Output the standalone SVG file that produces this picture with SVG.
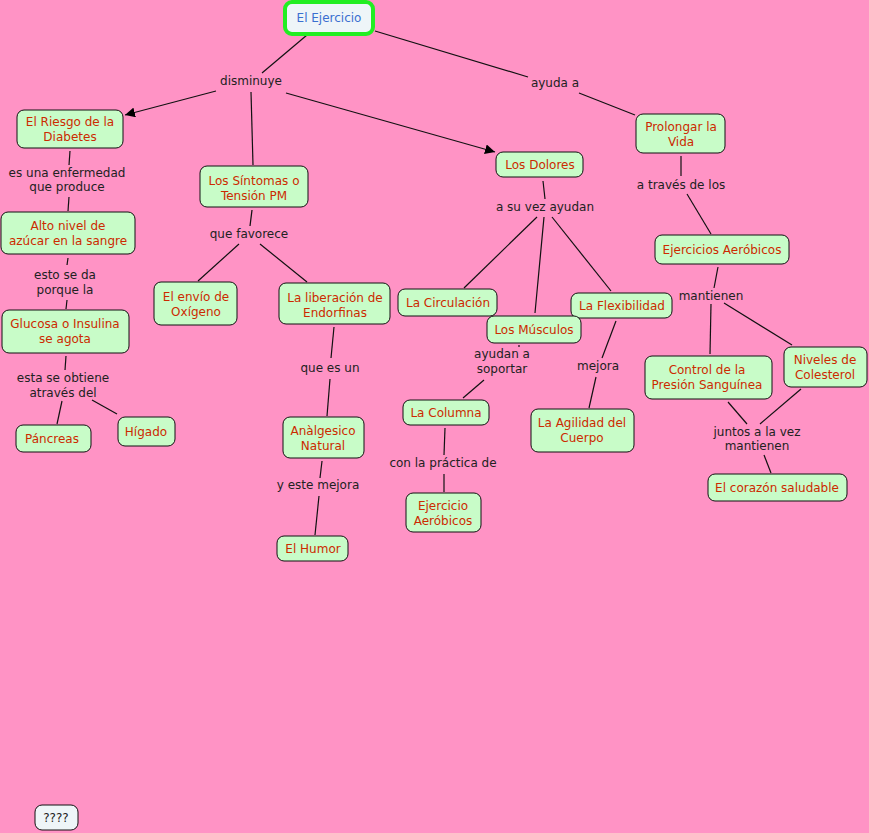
<svg xmlns="http://www.w3.org/2000/svg" width="869" height="833" viewBox="0 0 869 833">
<defs>
<marker id="ah" viewBox="0 0 10 10" refX="10" refY="5" markerWidth="10" markerHeight="10" markerUnits="userSpaceOnUse" orient="auto"><path d="M0,0 L10,5 L0,10 z" fill="#000"/></marker>
<style>
.n rect{fill:#c8fcc8;stroke:#111;stroke-width:1}
.n text{fill:#cc2a00;font-family:"DejaVu Sans",Verdana,sans-serif;font-size:12px;text-anchor:middle}
.l{fill:#222;font-family:"DejaVu Sans",Verdana,sans-serif;font-size:12px;text-anchor:middle}
#c line{stroke:#111;stroke-width:1.2}
</style>
</defs>
<rect width="869" height="833" fill="#ff93c5"/>
<g id="c">
<line x1="307" y1="35" x2="262" y2="73"/>
<line x1="216" y1="91" x2="125" y2="115" marker-end="url(#ah)"/>
<line x1="251" y1="92" x2="253" y2="165"/>
<line x1="286" y1="93" x2="495" y2="152" marker-end="url(#ah)"/>
<line x1="375" y1="31" x2="528" y2="77"/>
<line x1="579" y1="93" x2="635" y2="115"/>
<line x1="70" y1="151" x2="69" y2="165"/>
<line x1="69" y1="197" x2="68" y2="211"/>
<line x1="68" y1="258" x2="67" y2="265"/>
<line x1="67" y1="300" x2="66" y2="309"/>
<line x1="66" y1="356" x2="65" y2="370"/>
<line x1="62" y1="401" x2="57" y2="424"/>
<line x1="92" y1="400" x2="117" y2="414"/>
<line x1="252" y1="210" x2="250" y2="226"/>
<line x1="239" y1="244" x2="198" y2="281"/>
<line x1="260" y1="244" x2="307" y2="282"/>
<line x1="334" y1="327" x2="331" y2="358"/>
<line x1="330" y1="379" x2="327" y2="416"/>
<line x1="322" y1="461" x2="320" y2="478"/>
<line x1="319" y1="496" x2="315" y2="535"/>
<line x1="543" y1="181" x2="545" y2="199"/>
<line x1="537" y1="217" x2="464" y2="288"/>
<line x1="544" y1="217" x2="535" y2="313"/>
<line x1="552" y1="217" x2="611" y2="291"/>
<line x1="519" y1="345" x2="519" y2="347"/>
<line x1="484" y1="380" x2="463" y2="398"/>
<line x1="445" y1="428" x2="444" y2="455"/>
<line x1="444" y1="474" x2="444" y2="492"/>
<line x1="616" y1="321" x2="602" y2="358"/>
<line x1="596" y1="377" x2="589" y2="408"/>
<line x1="681" y1="156" x2="681" y2="176"/>
<line x1="687" y1="194" x2="711" y2="234"/>
<line x1="718" y1="267" x2="714" y2="288"/>
<line x1="711" y1="304" x2="710" y2="354"/>
<line x1="724" y1="303" x2="792" y2="345"/>
<line x1="728" y1="402" x2="747" y2="424"/>
<line x1="801" y1="389" x2="760" y2="424"/>
<line x1="764" y1="455" x2="771" y2="473"/>
</g>
<g id="labels">
<text class="l" x="251" y="85">disminuye</text>
<text class="l" x="555" y="87">ayuda a</text>
<text class="l" x="67" y="177">es una enfermedad</text>
<text class="l" x="67" y="191">que produce</text>
<text class="l" x="545" y="211">a su vez ayudan</text>
<text class="l" x="681" y="189">a través de los</text>
<text class="l" x="249" y="238">que favorece</text>
<text class="l" x="65" y="279">esto se da</text>
<text class="l" x="65" y="294">porque la</text>
<text class="l" x="711" y="300">mantienen</text>
<text class="l" x="330" y="372">que es un</text>
<text class="l" x="63" y="382">esta se obtiene</text>
<text class="l" x="63" y="397">através del</text>
<text class="l" x="502" y="358">ayudan a</text>
<text class="l" x="502" y="373">soportar</text>
<text class="l" x="598" y="370">mejora</text>
<text class="l" x="757" y="436">juntos a la vez</text>
<text class="l" x="757" y="450">mantienen</text>
<text class="l" x="443" y="467">con la práctica de</text>
<text class="l" x="318" y="489">y este mejora</text>
</g>
<g id="n-ejercicio" class="n"><rect x="285" y="2" width="88" height="32" rx="7" style="fill:#eef5f8;stroke:#22ee22;stroke-width:4"/><text x="329" y="22" style="fill:#3a6fd0">El Ejercicio</text></g>
<g id="n-riesgo" class="n"><rect x="17" y="110" width="106" height="38" rx="7"/><text x="70" y="126">El Riesgo de la</text><text x="70" y="141">Diabetes</text></g>
<g id="n-sintomas" class="n"><rect x="200" y="166" width="108" height="41" rx="7"/><text x="254" y="185">Los Síntomas o</text><text x="254" y="200">Tensión PM</text></g>
<g id="n-dolores" class="n"><rect x="496" y="152" width="87" height="25" rx="7"/><text x="540" y="169">Los Dolores</text></g>
<g id="n-prolongar" class="n"><rect x="636" y="114" width="89" height="39" rx="7"/><text x="681" y="131">Prolongar la</text><text x="681" y="146">Vida</text></g>
<g id="n-alto" class="n"><rect x="1" y="212" width="134" height="42" rx="7"/><text x="68" y="230">Alto nivel de</text><text x="68" y="245">azúcar en la sangre</text></g>
<g id="n-envio" class="n"><rect x="154" y="282" width="83" height="43" rx="7"/><text x="196" y="301">El envío de</text><text x="196" y="316">Oxígeno</text></g>
<g id="n-liberacion" class="n"><rect x="279" y="283" width="111" height="41" rx="7"/><text x="335" y="302">La liberación de</text><text x="335" y="317">Endorfinas</text></g>
<g id="n-circulacion" class="n"><rect x="398" y="289" width="99" height="27" rx="7"/><text x="448" y="307">La Circulación</text></g>
<g id="n-flexibilidad" class="n"><rect x="571" y="293" width="101" height="25" rx="7"/><text x="622" y="310">La Flexibilidad</text></g>
<g id="n-musculos" class="n"><rect x="487" y="316" width="94" height="27" rx="7"/><text x="534" y="334">Los Músculos</text></g>
<g id="n-aerobicos" class="n"><rect x="655" y="235" width="134" height="29" rx="7"/><text x="722" y="254">Ejercicios Aeróbicos</text></g>
<g id="n-control" class="n"><rect x="645" y="356" width="127" height="43" rx="7"/><text x="707" y="374">Control de la</text><text x="707" y="389">Presión Sanguínea</text></g>
<g id="n-colesterol" class="n"><rect x="784" y="347" width="83" height="40" rx="7"/><text x="825" y="364">Niveles de</text><text x="825" y="379">Colesterol</text></g>
<g id="n-glucosa" class="n"><rect x="2" y="310" width="127" height="43" rx="7"/><text x="65" y="328">Glucosa o Insulina</text><text x="65" y="343">se agota</text></g>
<g id="n-pancreas" class="n"><rect x="16" y="425" width="75" height="27" rx="7"/><text x="52" y="443">Páncreas</text></g>
<g id="n-higado" class="n"><rect x="118" y="417" width="57" height="29" rx="7"/><text x="146" y="436">Hígado</text></g>
<g id="n-analgesico" class="n"><rect x="283" y="417" width="81" height="41" rx="7"/><text x="323" y="435">Anàlgesico</text><text x="323" y="450">Natural</text></g>
<g id="n-columna" class="n"><rect x="403" y="400" width="86" height="25" rx="7"/><text x="446" y="417">La Columna</text></g>
<g id="n-agilidad" class="n"><rect x="531" y="409" width="103" height="43" rx="7"/><text x="582" y="427">La Agilidad del</text><text x="582" y="442">Cuerpo</text></g>
<g id="n-humor" class="n"><rect x="277" y="536" width="71" height="25" rx="7"/><text x="313" y="553">El Humor</text></g>
<g id="n-ejaerobicos" class="n"><rect x="406" y="493" width="75" height="39" rx="7"/><text x="443" y="510">Ejercicio</text><text x="443" y="525">Aeróbicos</text></g>
<g id="n-corazon" class="n"><rect x="708" y="474" width="139" height="27" rx="7"/><text x="777" y="492">El corazón saludable</text></g>
<g id="n-q" class="n"><rect x="35" y="805" width="43" height="25" rx="7" style="fill:#eef5f8"/><text x="56" y="822" style="fill:#222">????</text></g>
</svg>
